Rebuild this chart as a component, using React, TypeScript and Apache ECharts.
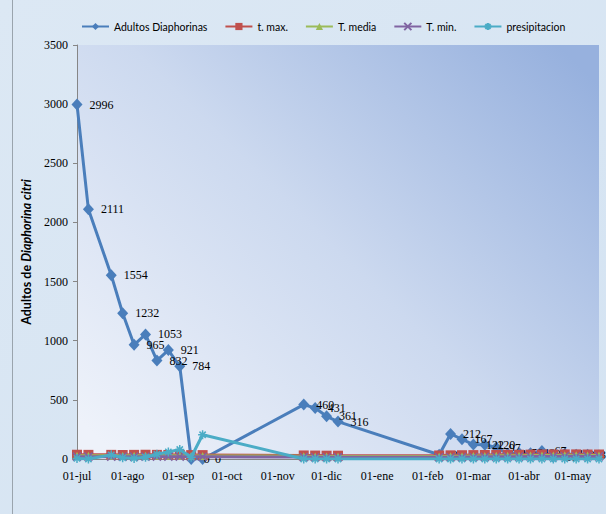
import React, { useEffect, useRef } from "react";
import * as echarts from "echarts";

const fechas = [
  "2010-07-01", "2010-07-08", "2010-07-22", "2010-07-29", "2010-08-05", "2010-08-12",
  "2010-08-19", "2010-08-26", "2010-09-02", "2010-09-09", "2010-09-16", "2010-11-17",
  "2010-11-24", "2010-12-01", "2010-12-08", "2011-02-08", "2011-02-15", "2011-02-22",
  "2011-03-01", "2011-03-08", "2011-03-15", "2011-03-22", "2011-03-29", "2011-04-05",
  "2011-04-12", "2011-04-19", "2011-04-26", "2011-05-03", "2011-05-10", "2011-05-17",
];
const adultos = [2996, 2111, 1554, 1232, 965, 1053, 832, 921, 784, 0, 0, 460, 431, 361, 316, 36, 212, 167, 122, 120, 97, 45, 50, 48, 67, 18, 44, 36, 36, 30];
const tMax = [36, 35, 35, 34, 35, 36, 35, 34, 34, 33, 33, 30, 29, 28, 28, 30, 31, 32, 33, 34, 35, 36, 36, 37, 38, 38, 39, 39, 38, 38];
const tMedia = [28, 27, 27, 27, 28, 28, 27, 27, 27, 26, 26, 23, 22, 21, 21, 22, 23, 24, 25, 26, 27, 28, 28, 29, 30, 30, 31, 31, 30, 30];
const tMin = [20, 20, 19, 20, 20, 20, 20, 20, 20, 19, 19, 16, 15, 14, 14, 14, 15, 16, 17, 18, 19, 20, 20, 21, 22, 22, 23, 23, 22, 22];
const presipitacion = [5, 0, 35, 10, 5, 15, 40, 60, 80, 15, 205, 0, 0, 0, 0, 0, 0, 0, 0, 0, 0, 0, 0, 0, 0, 0, 0, 0, 0, 0];
const meses = ["ene", "feb", "mar", "abr", "may", "jun", "jul", "ago", "sep", "oct", "nov", "dic"];
const yTicks = { min: 0, max: 3500, interval: 500 };

const DAY = 86400000;
const sansN = "Lato, 'Noto Sans', sans-serif";
const serif = "'Liberation Serif', 'DejaVu Serif', serif";

const pairs = (vals: number[]) => fechas.map((f, i) => [f, vals[i]]);

export default function App() {
  const ref = useRef<HTMLDivElement>(null);
  useEffect(() => {
    if (!ref.current) return;
    const chart = echarts.init(ref.current, null, { renderer: "svg" });
    chart.setOption({
      animation: false,
      backgroundColor: new echarts.graphic.LinearGradient(0, 0, 1, 1, [
        { offset: 0, color: "#dce8f4" },
        { offset: 1, color: "#d4e3f2" },
      ]),
      graphic: [
        { type: "line", shape: { x1: 12.5, y1: 0, x2: 12.5, y2: 514 }, style: { stroke: "#9aa4ad", lineWidth: 1 } },
      ],
      legend: {
        top: 16,
        left: 76,
        itemWidth: 27,
        itemHeight: 9,
        itemGap: 17,
        textStyle: { fontFamily: sansN, fontSize: 10.5, color: "#000" },
        data: ["Adultos Diaphorinas", "t. max.", "T. media", "T. min.", "presipitacion"],
      },
      grid: {
        left: 77,
        right: 7,
        top: 45,
        bottom: 55,
        show: true,
        borderWidth: 0,
        backgroundColor: new echarts.graphic.LinearGradient(0, 0.9, 1, 0.1, [
          { offset: 0, color: "#eef2fa" },
          { offset: 0.5, color: "#ccd9ef" },
          { offset: 1, color: "#97b1de" },
        ]),
      },
      xAxis: {
        type: "time",
        min: "2010-07-01",
        max: "2011-05-17",
        minInterval: 28 * DAY,
        maxInterval: 31 * DAY,
        splitNumber: 11,
        axisLine: { show: true, lineStyle: { color: "#868686" } },
        axisTick: { show: false },
        splitLine: { show: false },
        axisLabel: {
          color: "#000",
          fontFamily: serif,
          fontSize: 12,
          margin: 11,
          hideOverlap: false,
          formatter: (v: number) => {
            const d = new Date(v);
            return d.getDate() === 1 ? "01-" + meses[d.getMonth()] : "";
          },
        },
      },
      yAxis: {
        type: "value",
        ...yTicks,
        axisLine: { show: true, lineStyle: { color: "#868686" } },
        axisTick: { show: true, length: 4, lineStyle: { color: "#868686" } },
        splitLine: { show: false },
        axisLabel: { color: "#000", fontFamily: serif, fontSize: 12, margin: 9, formatter: (v: number) => String(v) },
        name: "{a|Adultos de }{b|Diaphorina citri}",
        nameLocation: "middle",
        nameRotate: 90,
        nameGap: 40,
        nameTextStyle: {
          rich: {
            a: { fontFamily: sansN, fontSize: 12.5, fontWeight: "bold", color: "#000" },
            b: { fontFamily: sansN, fontSize: 12.5, fontWeight: "bold", fontStyle: "italic", color: "#000" },
          },
        },
      },
      series: [
        {
          name: "Adultos Diaphorinas",
          type: "line",
          data: pairs(adultos),
          symbol: "diamond",
          symbolSize: [11, 12],
          color: "#4a7ebb",
          lineStyle: { width: 3, color: "#4a7ebb" },
          label: { show: true, position: "right", distance: 7, color: "#000", fontFamily: serif, fontSize: 12 },
          z: 2,
        },
        {
          name: "t. max.",
          type: "line",
          data: pairs(tMax),
          symbol: "rect",
          symbolSize: 10,
          color: "#c0504d",
          lineStyle: { width: 3, color: "#c0504d" },
          z: 3,
        },
        {
          name: "T. media",
          type: "line",
          data: pairs(tMedia),
          symbol: "triangle",
          symbolSize: 8,
          color: "#9bbb59",
          lineStyle: { width: 3, color: "#9bbb59" },
          z: 4,
        },
        {
          name: "T. min.",
          type: "line",
          data: pairs(tMin),
          symbol: "path://M0,0L10,10M10,0L0,10",
          symbolSize: 8,
          color: "#8064a2",
          itemStyle: { borderColor: "#8064a2", borderWidth: 1.5 },
          lineStyle: { width: 3, color: "#8064a2" },
          z: 5,
        },
        {
          name: "presipitacion",
          type: "line",
          data: pairs(presipitacion),
          symbol: "path://M0,5L10,5M5,0L5,10M1.5,1.5L8.5,8.5M8.5,1.5L1.5,8.5",
          symbolSize: 9,
          color: "#4bacc6",
          itemStyle: { borderColor: "#4bacc6", borderWidth: 1.5 },
          lineStyle: { width: 3, color: "#4bacc6" },
          z: 6,
        },
      ],
    });
    return () => chart.dispose();
  }, []);
  return <div ref={ref} style={{ position: "fixed", left: 0, top: 0, width: 606, height: 514 }} />;
}
